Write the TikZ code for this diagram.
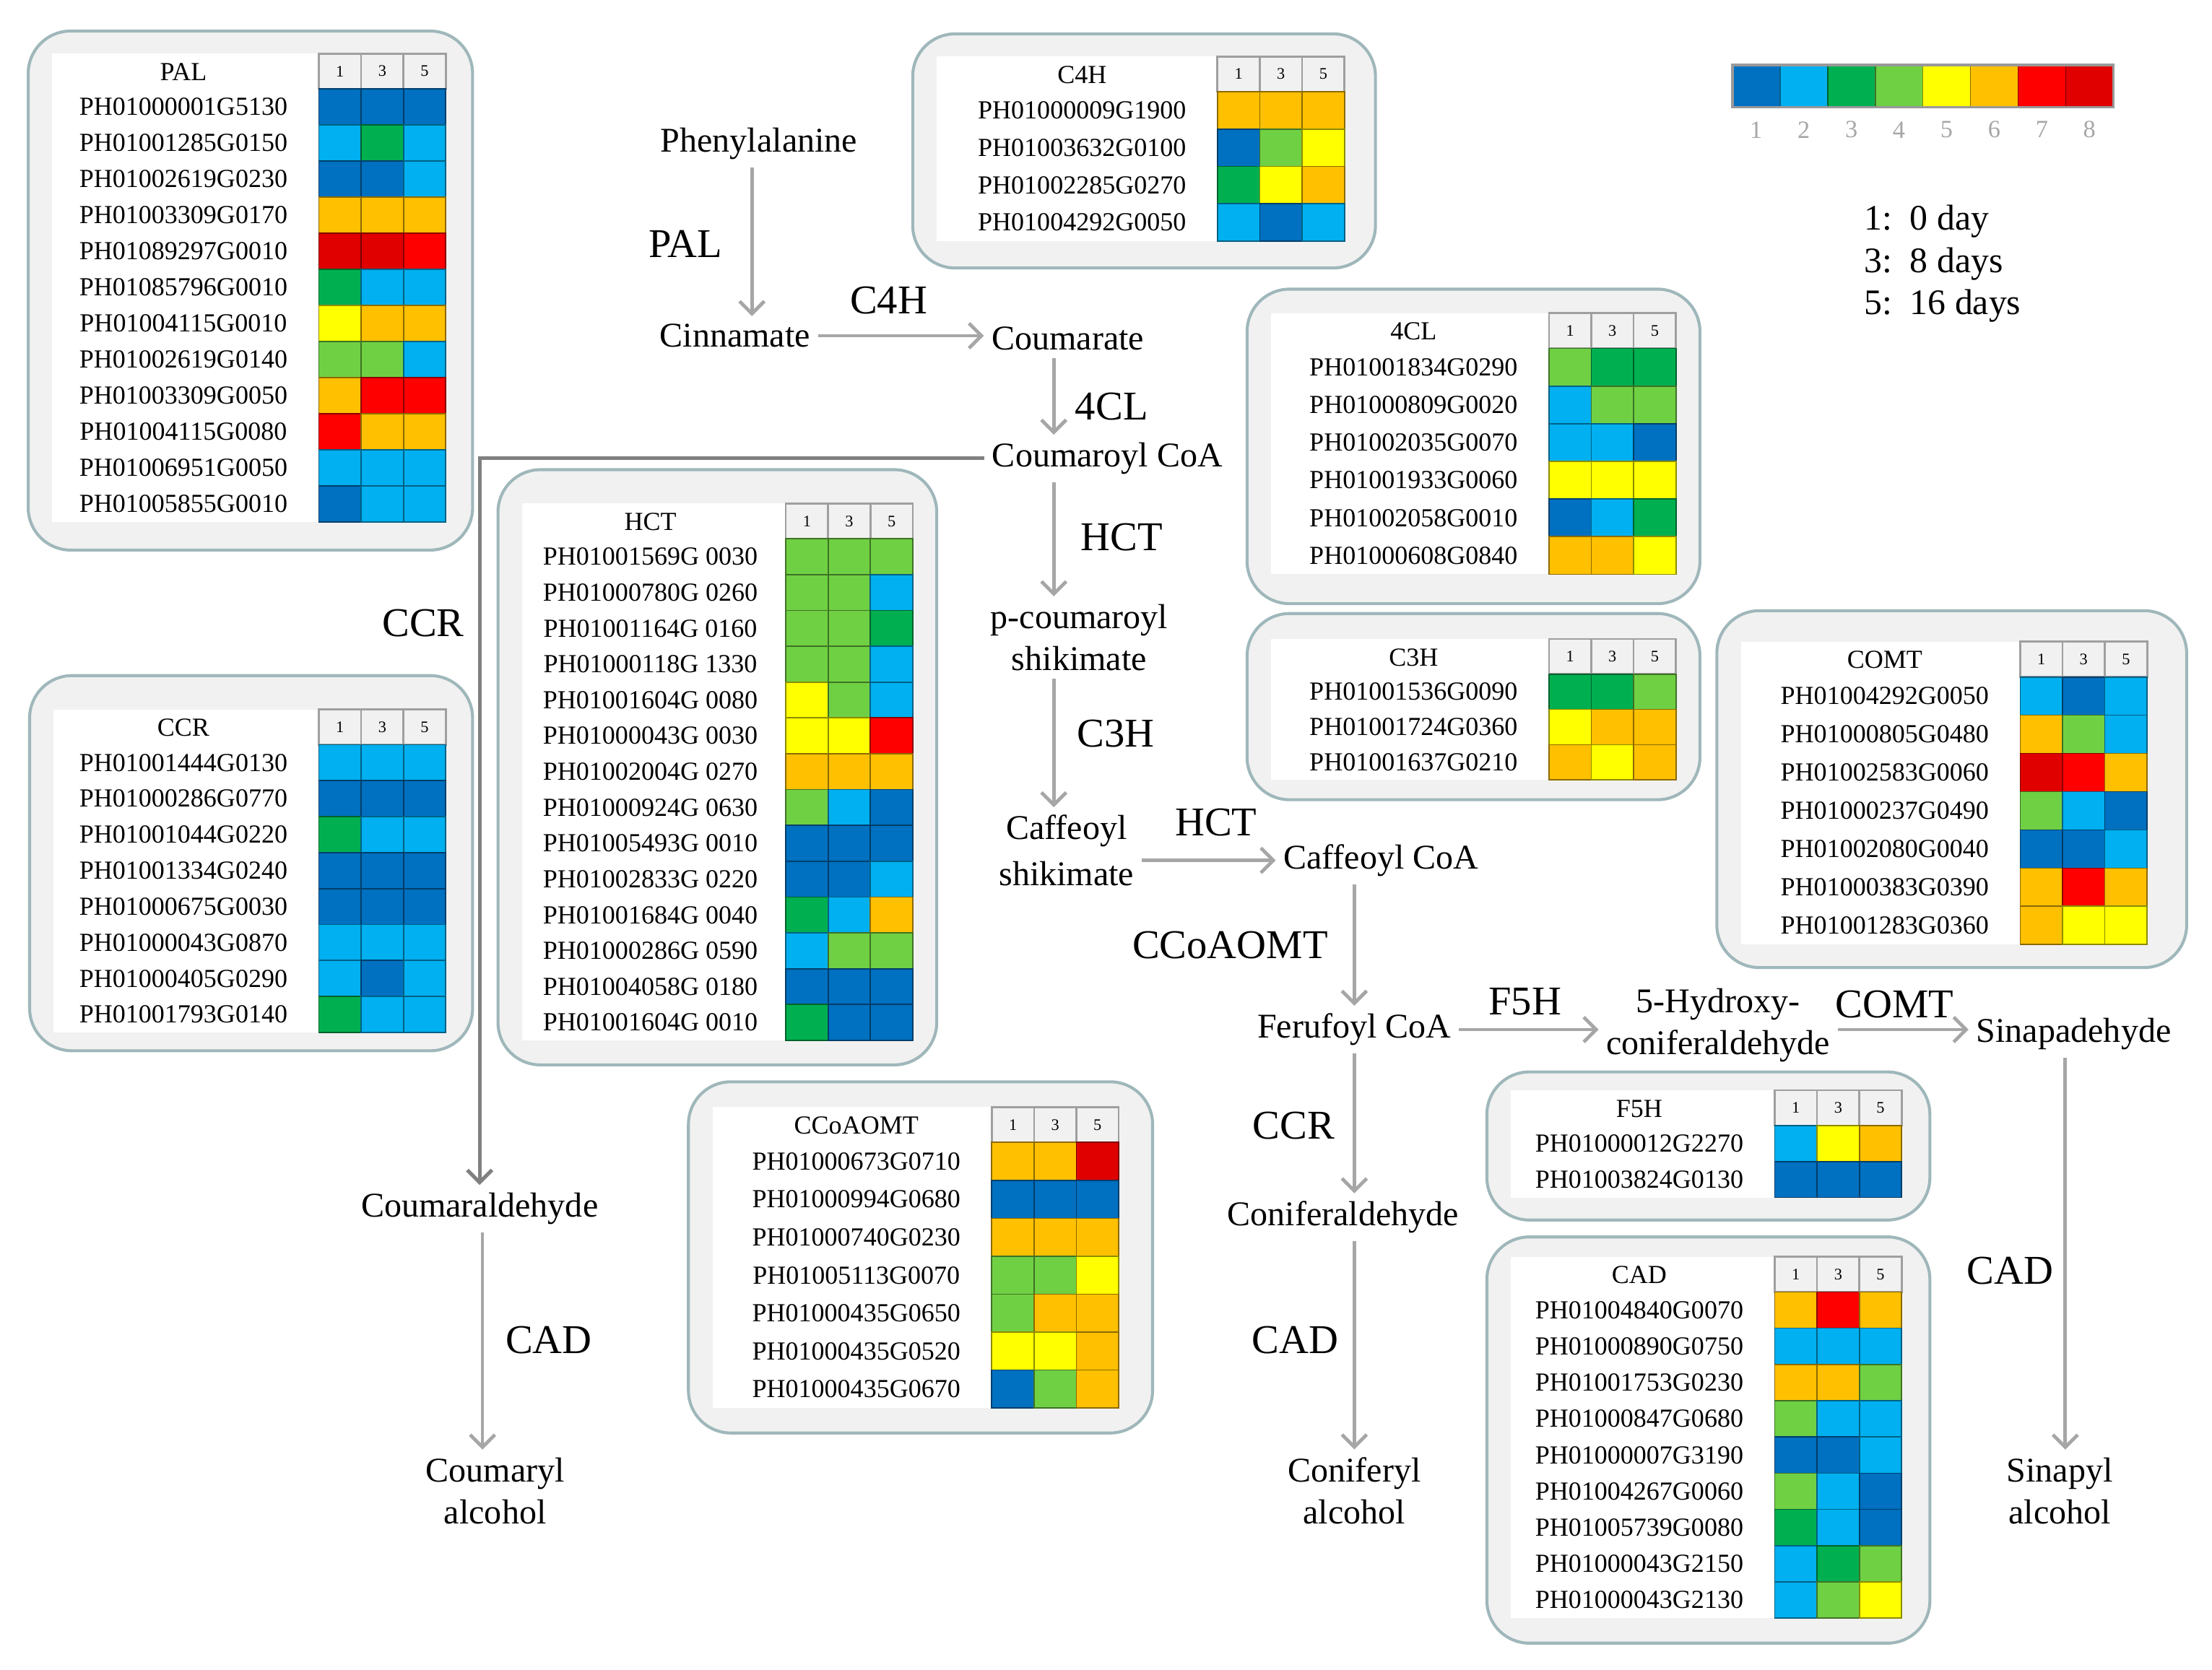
\documentclass[tikz,border=0pt]{standalone}
\usepackage{fontspec}
\setmainfont{Liberation Serif}
\usepackage{tikz}
\usetikzlibrary{arrows.meta}

\definecolor{c1}{HTML}{0070C0}
\definecolor{c2}{HTML}{00B0F0}
\definecolor{c3}{HTML}{00B050}
\definecolor{c4}{HTML}{70D044}
\definecolor{c5}{HTML}{FFFF00}
\definecolor{c6}{HTML}{FFC000}
\definecolor{c7}{HTML}{FF0000}
\definecolor{c8}{HTML}{E00000}
\definecolor{boxfill}{HTML}{F1F1F1}
\definecolor{boxline}{HTML}{9FB7BA}
\definecolor{arrowgray}{HTML}{A6A6A6}
\definecolor{linegray}{HTML}{808080}

% frame x1,y1,x2,y2 ; grid corner x,y ; row height ; title ; rows id/a/b/c
\newcommand{\heatbox}[9]{%
  \draw[genebox] (#1,#2) rectangle (#3,#4);
  \foreach \r [count=\n] in {#9} {\xdef\nrows{\n}}
  \fill[white] (#1+17,#6) rectangle (#5+90,#6+25+\nrows*#7);
  \node[gene] (t-#8) at (#5-96,#6+13) {#8};
  \foreach \h [count=\k] in {1,3,5} {
    \draw[headcell] (#5+\k*30-30,#6) rectangle ++(30,25);
    \node[headnum] (h-#8-\k) at (#5+\k*30-15,#6+12.5) {\h};
  }
  \foreach \id/\a/\b/\c [count=\i] in {#9} {
    \pgfmathsetmacro{\yt}{#6+25+(\i-1)*#7}
    \node[gene] (#8-\i) at (#5-96,\yt+#7/2) {\id};
    \foreach \v [count=\k] in {\a,\b,\c}
      \draw[cell=c\v] (#5+\k*30-30,\yt) rectangle ++(30,#7);
  }
}

\begin{document}
\begin{tikzpicture}[x=0.02cm,y=-0.02cm,
  genebox/.style={rounded corners=0.6cm,fill=boxfill,draw=boxline,line width=1.2pt},
  headcell/.style={fill=boxfill,draw=gray!75,line width=0.8pt},
  cell/.style={fill=#1,draw=#1!55!black,line width=0.5pt},
  gene/.style={font=\fontsize{10.5}{12}\selectfont,inner sep=0pt},
  headnum/.style={font=\fontsize{6.5}{7}\selectfont,inner sep=0pt},
  met/.style={font=\fontsize{14}{17}\selectfont,align=center,inner sep=3pt},
  enz/.style={font=\fontsize{16.5}{18}\selectfont,inner sep=0pt},
  flow/.style={draw=arrowgray,line width=1.4pt,-{Straight Barb[length=5pt,width=10pt]}},
  ccrline/.style={draw=linegray,line width=1.5pt,-{Straight Barb[length=5pt,width=10pt]}},
  legnum/.style={font=\fontsize{10}{11}\selectfont,text=gray!70,inner sep=0pt},
  legtxt/.style={font=\fontsize{14.5}{16}\selectfont,anchor=west,inner sep=0pt}]
\useasboundingbox (0,0) rectangle (1568,1184);

% heatmap boxes
\heatbox{20}{22}{335}{390}{226}{38}{25.6}{PAL}{
  PH01000001G5130/1/1/1, PH01001285G0150/2/3/2, PH01002619G0230/1/1/2,
  PH01003309G0170/6/6/6, PH01089297G0010/8/8/7, PH01085796G0010/3/2/2,
  PH01004115G0010/5/6/6, PH01002619G0140/4/4/2, PH01003309G0050/6/7/7,
  PH01004115G0080/7/6/6, PH01006951G0050/2/2/2, PH01005855G0010/1/2/2}
\heatbox{647}{24}{975}{190}{863}{40}{26.5}{C4H}{
  PH01000009G1900/6/6/6, PH01003632G0100/1/4/5, PH01002285G0270/3/5/6,
  PH01004292G0050/2/1/2}
\heatbox{884}{205}{1205}{428}{1098}{222}{26.7}{4CL}{
  PH01001834G0290/4/3/3, PH01000809G0020/2/4/4, PH01002035G0070/2/2/1,
  PH01001933G0060/5/5/5, PH01002058G0010/1/2/3, PH01000608G0840/6/6/5}
\heatbox{884}{435}{1205}{567}{1098}{453}{25}{C3H}{
  PH01001536G0090/3/3/4, PH01001724G0360/5/6/6, PH01001637G0210/6/5/6}
\heatbox{1217}{433}{1550}{686}{1432}{455}{27.1}{COMT}{
  PH01004292G0050/2/1/2, PH01000805G0480/6/4/2, PH01002583G0060/8/7/6,
  PH01000237G0490/4/2/1, PH01002080G0040/1/1/2, PH01000383G0390/6/7/6,
  PH01001283G0360/6/5/5}
\heatbox{353}{333}{664}{755}{557}{357}{25.4}{HCT}{
  PH01001569G 0030/4/4/4, PH01000780G 0260/4/4/2, PH01001164G 0160/4/4/3,
  PH01000118G 1330/4/4/2, PH01001604G 0080/5/4/2, PH01000043G 0030/5/5/7,
  PH01002004G 0270/6/6/6, PH01000924G 0630/4/2/1, PH01005493G 0010/1/1/1,
  PH01002833G 0220/1/1/2, PH01001684G 0040/3/2/6, PH01000286G 0590/2/4/4,
  PH01004058G 0180/1/1/1, PH01001604G 0010/3/1/1}
\heatbox{21}{479}{335}{745}{226}{503}{25.5}{CCR}{
  PH01001444G0130/2/2/2, PH01000286G0770/1/1/1, PH01001044G0220/3/2/2,
  PH01001334G0240/1/1/1, PH01000675G0030/1/1/1, PH01000043G0870/2/2/2,
  PH01000405G0290/2/1/2, PH01001793G0140/3/2/2}
\heatbox{488}{767}{817}{1016}{703}{785}{26.9}{CCoAOMT}{
  PH01000673G0710/6/6/8, PH01000994G0680/1/1/1, PH01000740G0230/6/6/6,
  PH01005113G0070/4/4/5, PH01000435G0650/4/6/6, PH01000435G0520/5/5/6,
  PH01000435G0670/1/4/6}
\heatbox{1054}{760}{1368}{865}{1258}{773}{25.5}{F5H}{
  PH01000012G2270/2/5/6, PH01003824G0130/1/1/1}
\heatbox{1054}{877}{1368}{1165}{1258}{891}{25.7}{CAD}{
  PH01004840G0070/6/7/6, PH01000890G0750/2/2/2, PH01001753G0230/6/6/4,
  PH01000847G0680/4/2/2, PH01000007G3190/1/1/2, PH01004267G0060/4/2/1,
  PH01005739G0080/3/2/1, PH01000043G2150/2/3/4, PH01000043G2130/2/4/5}

% legend
\foreach \k in {1,...,8} {
  \draw[cell=c\k] (1228+\k*33.75-33.75,46) rectangle ++(33.75,30);
  \node[legnum] (n\k) at (1228+\k*33.75-16.9,92) {\k};
}
\draw[gray!80,line width=1pt] (1228,46) rectangle (1498,76);
\node[legtxt] (d1) at (1321,157) {1:\ \ 0 day};
\node[legtxt] (d3) at (1321,187) {3:\ \ 8 days};
\node[legtxt] (d5) at (1321,217) {5:\ \ 16 days};

% metabolites
\node[met] (phe) at (538,102) {Phenylalanine};
\node[met] (cin) at (521,238) {Cinnamate};
\node[met] (coum) at (757,240) {Coumarate};
\node[met] (ccoa) at (785,325) {Coumaroyl CoA};
\node[met] (pcs) at (765,452) {p-coumaroyl\\shikimate};
\node[met,font=\fontsize{14}{18.5}\selectfont] (cfs) at (756,603) {Caffeoyl\\shikimate};
\node[met] (cfcoa) at (979,610) {Caffeoyl CoA};
\node[met] (fer) at (960,730) {Ferufoyl CoA};
\node[met] (hyd) at (1218,727) {5-Hydroxy-\\coniferaldehyde};
\node[met] (sin) at (1470,733) {Sinapadehyde};
\node[met] (conald) at (952,863) {Coniferaldehyde};
\node[met] (conalc) at (960,1057) {Coniferyl\\alcohol};
\node[met] (sinalc) at (1460,1057) {Sinapyl\\alcohol};
\node[met] (coumald) at (340,857) {Coumaraldehyde};
\node[met] (coumalc) at (351,1057) {Coumaryl\\alcohol};

% enzymes
\node[enz] (pal) at (486,173) {PAL};
\node[enz] (c4h) at (630,213) {C4H};
\node[enz] (fcl) at (788,288) {4CL};
\node[enz] (ccrA) at (300,442) {CCR};
\node[enz] (hctA) at (795,381) {HCT};
\node[enz] (c3h) at (791,520) {C3H};
\node[enz] (hctB) at (862,583) {HCT};
\node[enz] (ccoaomt) at (872,670) {CCoAOMT};
\node[enz] (f5h) at (1081,710) {F5H};
\node[enz] (comt) at (1343,712) {COMT};
\node[enz] (ccrB) at (917,798) {CCR};
\node[enz] (cadA) at (389,950) {CAD};
\node[enz] (cadB) at (918,950) {CAD};
\node[enz] (cadC) at (1425,901) {CAD};

% arrow columns
\coordinate (colA) at (533,0);
\coordinate (colB) at (747,0);
\coordinate (colC) at (960,0);
\coordinate (colD) at (1464,0);
\coordinate (colE) at (342,0);

\draw[flow] (phe.south -| colA) -- (cin.north -| colA);
\draw[flow] (cin.east) -- (cin.east -| coum.west);
\draw[flow] (coum.south -| colB) -- (ccoa.north -| colB);
\draw[ccrline] (ccoa.west) -| (coumald.north);
\draw[flow] (ccoa.south -| colB) -- (pcs.north -| colB);
\draw[flow] (pcs.south -| colB) -- (cfs.north -| colB);
\draw[flow] (cfs.east |- cfcoa) -- (cfcoa.west);
\draw[flow] (cfcoa.south -| colC) -- (fer.north -| colC);
\draw[flow] (fer.east) -- (fer.east -| hyd.west);
\draw[flow] (hyd.east |- fer.east) -- (fer.east -| sin.west);
\draw[flow] (fer.south -| colC) -- (conald.north -| colC);
\draw[flow] (conald.south -| colC) -- (conalc.north -| colC);
\draw[flow] (sin.south -| colD) -- (sinalc.north -| colD);
\draw[flow] (coumald.south -| colE) -- (coumalc.north -| colE);
\end{tikzpicture}
\end{document}
